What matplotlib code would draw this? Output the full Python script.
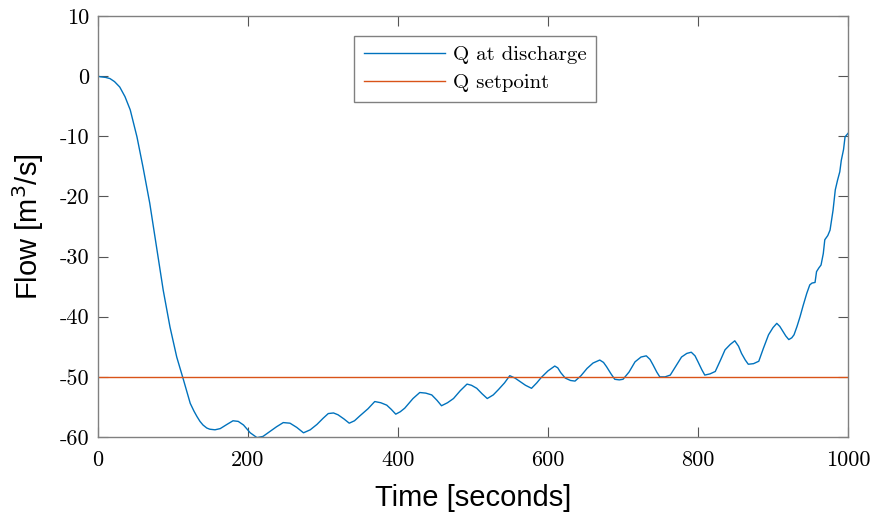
import numpy as np
import matplotlib
matplotlib.use("Agg")
import matplotlib.pyplot as plt

plt.rcParams['axes.unicode_minus'] = False

# flow at discharge
t = [0, 3, 10, 16, 22, 29, 36, 43, 52, 60, 69, 78, 87, 96, 105, 114, 123,
     128, 132, 136, 140, 145, 149, 156, 163, 172, 180, 187, 194, 203, 212,
     220, 229, 238, 247, 256, 265, 274, 283, 292, 300, 307, 314, 320, 328,
     335, 342, 349, 360, 369, 377, 385, 391, 397, 403, 409, 420, 429, 437,
     445, 452, 458, 466, 474, 483, 492, 498, 505, 512, 519, 527, 534, 542,
     549, 556, 563, 570, 578, 585, 591, 600, 609, 613, 617, 623, 630, 636,
     644, 652, 660, 669, 674, 678, 684, 689, 695, 700, 708, 716, 724, 731,
     736, 740, 745, 749, 756, 763, 770, 778, 785, 791, 796, 800, 805, 809,
     816, 823, 830, 836, 843, 849, 854, 858, 863, 867, 874, 881, 887, 894,
     900, 905, 909, 912, 917, 921, 925, 928, 932, 936, 940, 945, 949, 952,
     956, 958, 961, 964, 967, 969, 973, 976, 980, 983, 986, 989, 991, 994,
     996, 1000]
q = [0.0, -0.1, -0.2, -0.4, -0.9, -1.8, -3.4, -5.6, -10.1, -15.1, -21.1,
     -28.4, -35.6, -41.7, -46.7, -50.5, -54.4, -55.7, -56.6, -57.4, -58.0,
     -58.5, -58.7, -58.8, -58.6, -57.9, -57.3, -57.4, -58.0, -59.3, -60.1,
     -59.9, -59.1, -58.3, -57.6, -57.7, -58.4, -59.3, -58.8, -57.9, -56.9,
     -56.1, -56.0, -56.3, -57.0, -57.7, -57.3, -56.5, -55.3, -54.1, -54.3,
     -54.7, -55.4, -56.2, -55.8, -55.2, -53.6, -52.6, -52.7, -53.0, -53.9,
     -54.8, -54.3, -53.6, -52.3, -51.2, -51.4, -51.9, -52.8, -53.6, -53.0,
     -52.1, -51.0, -49.8, -50.2, -50.8, -51.4, -51.9, -51.0, -50.1, -49.0,
     -48.2, -48.5, -49.3, -50.2, -50.6, -50.7, -49.8, -48.6, -47.7, -47.2,
     -47.6, -48.3, -49.5, -50.4, -50.5, -50.4, -49.2, -47.5, -46.7, -46.5,
     -47.1, -48.0, -49.2, -50.0, -50.0, -49.7, -48.3, -46.7, -46.1, -45.9,
     -46.5, -47.5, -48.8, -49.7, -49.5, -49.1, -47.2, -45.5, -44.6, -44.0,
     -44.9, -46.1, -47.2, -47.9, -47.8, -47.4, -45.3, -43.0, -41.8, -41.1,
     -41.6, -42.2, -43.2, -43.8, -43.5, -43.0, -41.6, -40.0, -38.2, -36.1,
     -34.7, -34.4, -34.3, -32.5, -31.9, -31.4, -29.5, -27.2, -26.5, -25.6,
     -22.3, -18.9, -17.3, -15.9, -14.0, -12.2, -10.1, -9.5]
setpoint = -50
xticks = [0, 200, 400, 600, 800, 1000]
yticks = [-60, -50, -40, -30, -20, -10, 0, 10]

fig = plt.figure(figsize=(8.74, 5.17), dpi=100)
ax = fig.add_axes([0.1121, 0.1547, 0.8582, 0.8143])

ax.plot(t, q, color='#0072BD', lw=1.0, label='Q at discharge')
ax.plot([0, 1000], [setpoint, setpoint], color='#D95319', lw=1.0,
        label='Q setpoint')

ax.set_xlim(0, 1000)
ax.set_ylim(-60, 10)
ax.set_xticks(xticks)
ax.set_yticks(yticks)
ax.tick_params(direction='in', length=7, width=0.8, color='#555555',
               top=True, right=True, labelsize=16, pad=6)
ax.tick_params(axis='x', pad=10)
for lab in ax.get_xticklabels() + ax.get_yticklabels():
    lab.set_family('cmr10')
for s in ax.spines.values():
    s.set_color('#808080')
    s.set_linewidth(1.0)

ax.set_xlabel('Time [seconds]', family='Liberation Sans', fontsize=21,
              labelpad=10)
ax.set_ylabel('Flow [m$^3$/s]', family='Liberation Sans', fontsize=21,
              labelpad=10)

leg = ax.legend(loc='upper center', bbox_to_anchor=(0.503, 0.952),
                borderaxespad=0, prop={'family': 'cmr10', 'size': 15},
                fancybox=False, handlelength=3.9, borderpad=0.45,
                labelspacing=0.45, handletextpad=0.4, framealpha=1)
leg.get_frame().set_edgecolor('#808080')
leg.get_frame().set_linewidth(1.0)

fig.savefig('out.png')
